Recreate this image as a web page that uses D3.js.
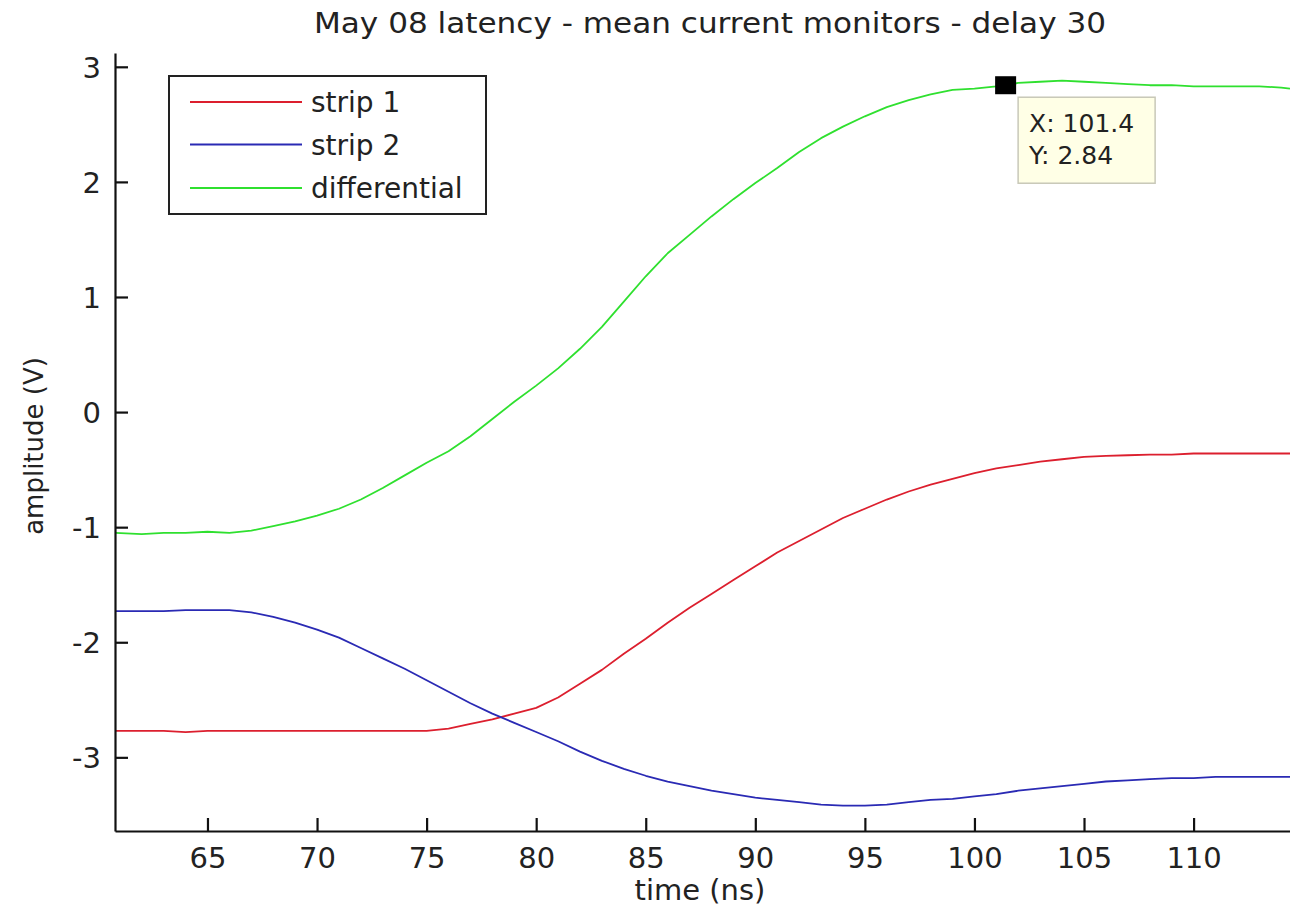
<!DOCTYPE html>
<html>
<head>
<meta charset="utf-8">
<script src="https://cdn.jsdelivr.net/npm/d3@7"></script>
<style>
  html, body { margin: 0; padding: 0; background: #fff; }
  svg { display: block; }
  text { font-family: "DejaVu Sans", sans-serif; fill: #222; }
</style>
</head>
<body>
<svg id="chart" width="1290" height="911"></svg>
<script>
// ---- data ----
const time = [60.8, 62, 63, 64, 65, 66, 67, 68, 69, 70, 71, 72, 73, 74, 75, 76, 77, 78, 79, 80,
  81, 82, 83, 84, 85, 86, 87, 88, 89, 90, 91, 92, 93, 94, 95, 96, 97, 98, 99, 100,
  101, 102, 103, 104, 105, 106, 107, 108, 109, 110, 111, 112, 113, 114, 114.4];

const strip1 = [-2.77, -2.77, -2.77, -2.78, -2.77, -2.77, -2.77, -2.77, -2.77, -2.77, -2.77, -2.77, -2.77, -2.77, -2.77, -2.75, -2.71, -2.67, -2.62, -2.57,
  -2.48, -2.36, -2.24, -2.10, -1.97, -1.83, -1.70, -1.58, -1.46, -1.34, -1.22, -1.12, -1.02, -0.92, -0.84, -0.76, -0.69, -0.63, -0.58, -0.53,
  -0.49, -0.46, -0.43, -0.41, -0.39, -0.38, -0.375, -0.37, -0.37, -0.36, -0.36, -0.36, -0.36, -0.36, -0.36];

const strip2 = [-1.73, -1.73, -1.73, -1.72, -1.72, -1.72, -1.74, -1.78, -1.83, -1.89, -1.96, -2.05, -2.14, -2.23, -2.33, -2.43, -2.53, -2.62, -2.70, -2.78,
  -2.86, -2.95, -3.03, -3.10, -3.16, -3.21, -3.25, -3.29, -3.32, -3.35, -3.37, -3.39, -3.41, -3.42, -3.42, -3.41, -3.39, -3.37, -3.36, -3.34,
  -3.32, -3.29, -3.27, -3.25, -3.23, -3.21, -3.20, -3.19, -3.18, -3.18, -3.17, -3.17, -3.17, -3.17, -3.17];

const differential = [-1.05, -1.06, -1.05, -1.05, -1.04, -1.05, -1.03, -0.99, -0.95, -0.90, -0.84, -0.76, -0.66, -0.55, -0.44, -0.34, -0.21, -0.06, 0.09, 0.23,
  0.38, 0.55, 0.74, 0.96, 1.18, 1.38, 1.54, 1.70, 1.85, 1.99, 2.12, 2.26, 2.38, 2.48, 2.57, 2.65, 2.71, 2.76, 2.80, 2.81,
  2.83, 2.86, 2.87, 2.88, 2.87, 2.86, 2.85, 2.84, 2.84, 2.83, 2.83, 2.83, 2.83, 2.82, 2.81];

const seriesNames = ["strip 1", "strip 2", "differential"];
const seriesColors = ["#dc1f2e", "#2a2ab4", "#2fe02f"];
const xTicks = [65, 70, 75, 80, 85, 90, 95, 100, 105, 110];
const yTicks = [-3, -2, -1, 0, 1, 2, 3];
const datatip = { x: 101.4, y: 2.84 };

const titleText = "May 08 latency - mean current monitors - delay 30";
const xLabel = "time (ns)";
const yLabel = "amplitude (V)";

// ---- layout ----
const svg = d3.select("#chart");
const plotLeft = 115, plotRight = 1290, plotTop = 53, plotBottom = 831;

const x = d3.scaleLinear().domain([60.78, 114.4]).range([plotLeft, plotRight]);
const y = d3.scaleLinear().domain([-3.64, 3.12]).range([plotBottom, plotTop]);

// lines
const seriesData = [strip1, strip2, differential];
const line = d3.line().x(d => x(d[0])).y(d => y(d[1])).curve(d3.curveLinear);

const plot = svg.append("g");
seriesData.forEach((vals, i) => {
  plot.append("path")
    .datum(time.map((t, j) => [t, vals[j]]))
    .attr("d", line)
    .attr("fill", "none")
    .attr("stroke", seriesColors[i])
    .attr("stroke-width", 1.8)
    .attr("stroke-linejoin", "round");
});

// axes
const xAxis = d3.axisBottom(x).tickValues(xTicks).tickSize(-13).tickPadding(16).tickSizeOuter(0);
const gx = svg.append("g").attr("transform", `translate(0,${plotBottom})`).call(xAxis);
const yAxis = d3.axisLeft(y).tickValues(yTicks).tickSize(-13).tickPadding(14).tickSizeOuter(0)
  .tickFormat(d => String(d));
const gy = svg.append("g").attr("transform", `translate(${plotLeft},0)`).call(yAxis);

[gx, gy].forEach(g => {
  g.select(".domain").attr("stroke", "#111").attr("stroke-width", 2.2);
  g.selectAll(".tick line").attr("stroke", "#111").attr("stroke-width", 2.2);
  g.selectAll(".tick text").attr("font-family", "DejaVu Sans").attr("font-size", 29).attr("fill", "#222");
});
gy.selectAll(".tick text").attr("dy", "0.36em");
gx.selectAll(".tick text").attr("dy", "0.71em");

// title and labels
svg.append("text").attr("x", 710).attr("y", 33).attr("text-anchor", "middle")
  .attr("font-size", 28).attr("textLength", 792).attr("lengthAdjust", "spacingAndGlyphs").text(titleText);
svg.append("text").attr("x", 700).attr("y", 900).attr("text-anchor", "middle")
  .attr("font-size", 29).text(xLabel);
svg.append("text").attr("transform", "translate(43,446) rotate(-90)").attr("text-anchor", "middle")
  .attr("font-size", 26).text(yLabel);

// legend
const lg = svg.append("g");
lg.append("rect").attr("x", 169).attr("y", 76).attr("width", 317).attr("height", 138)
  .attr("fill", "#fff").attr("stroke", "#222").attr("stroke-width", 2);
const legendY = [102, 144.5, 188];
seriesNames.forEach((name, i) => {
  lg.append("line").attr("x1", 190).attr("x2", 302).attr("y1", legendY[i]).attr("y2", legendY[i])
    .attr("stroke", seriesColors[i]).attr("stroke-width", 2);
  lg.append("text").attr("x", 311).attr("y", legendY[i] + 10).attr("font-size", 28).text(name);
});

// datatip
const mx = x(datatip.x), my = y(datatip.y);
svg.append("rect").attr("x", mx - 10).attr("y", my - 9).attr("width", 21).attr("height", 18).attr("fill", "#000");
const tip = svg.append("g").attr("transform", `translate(${mx + 13},${my + 12})`);
tip.append("rect").attr("width", 137).attr("height", 86)
  .attr("fill", "#ffffe6").attr("stroke", "#c8c8b8").attr("stroke-width", 1.5);
tip.append("text").attr("x", 11).attr("y", 35).attr("font-size", 25).text("X: " + datatip.x.toFixed(1));
tip.append("text").attr("x", 11).attr("y", 67).attr("font-size", 25).text("Y: " + datatip.y.toFixed(2));
</script>
</body>
</html>
